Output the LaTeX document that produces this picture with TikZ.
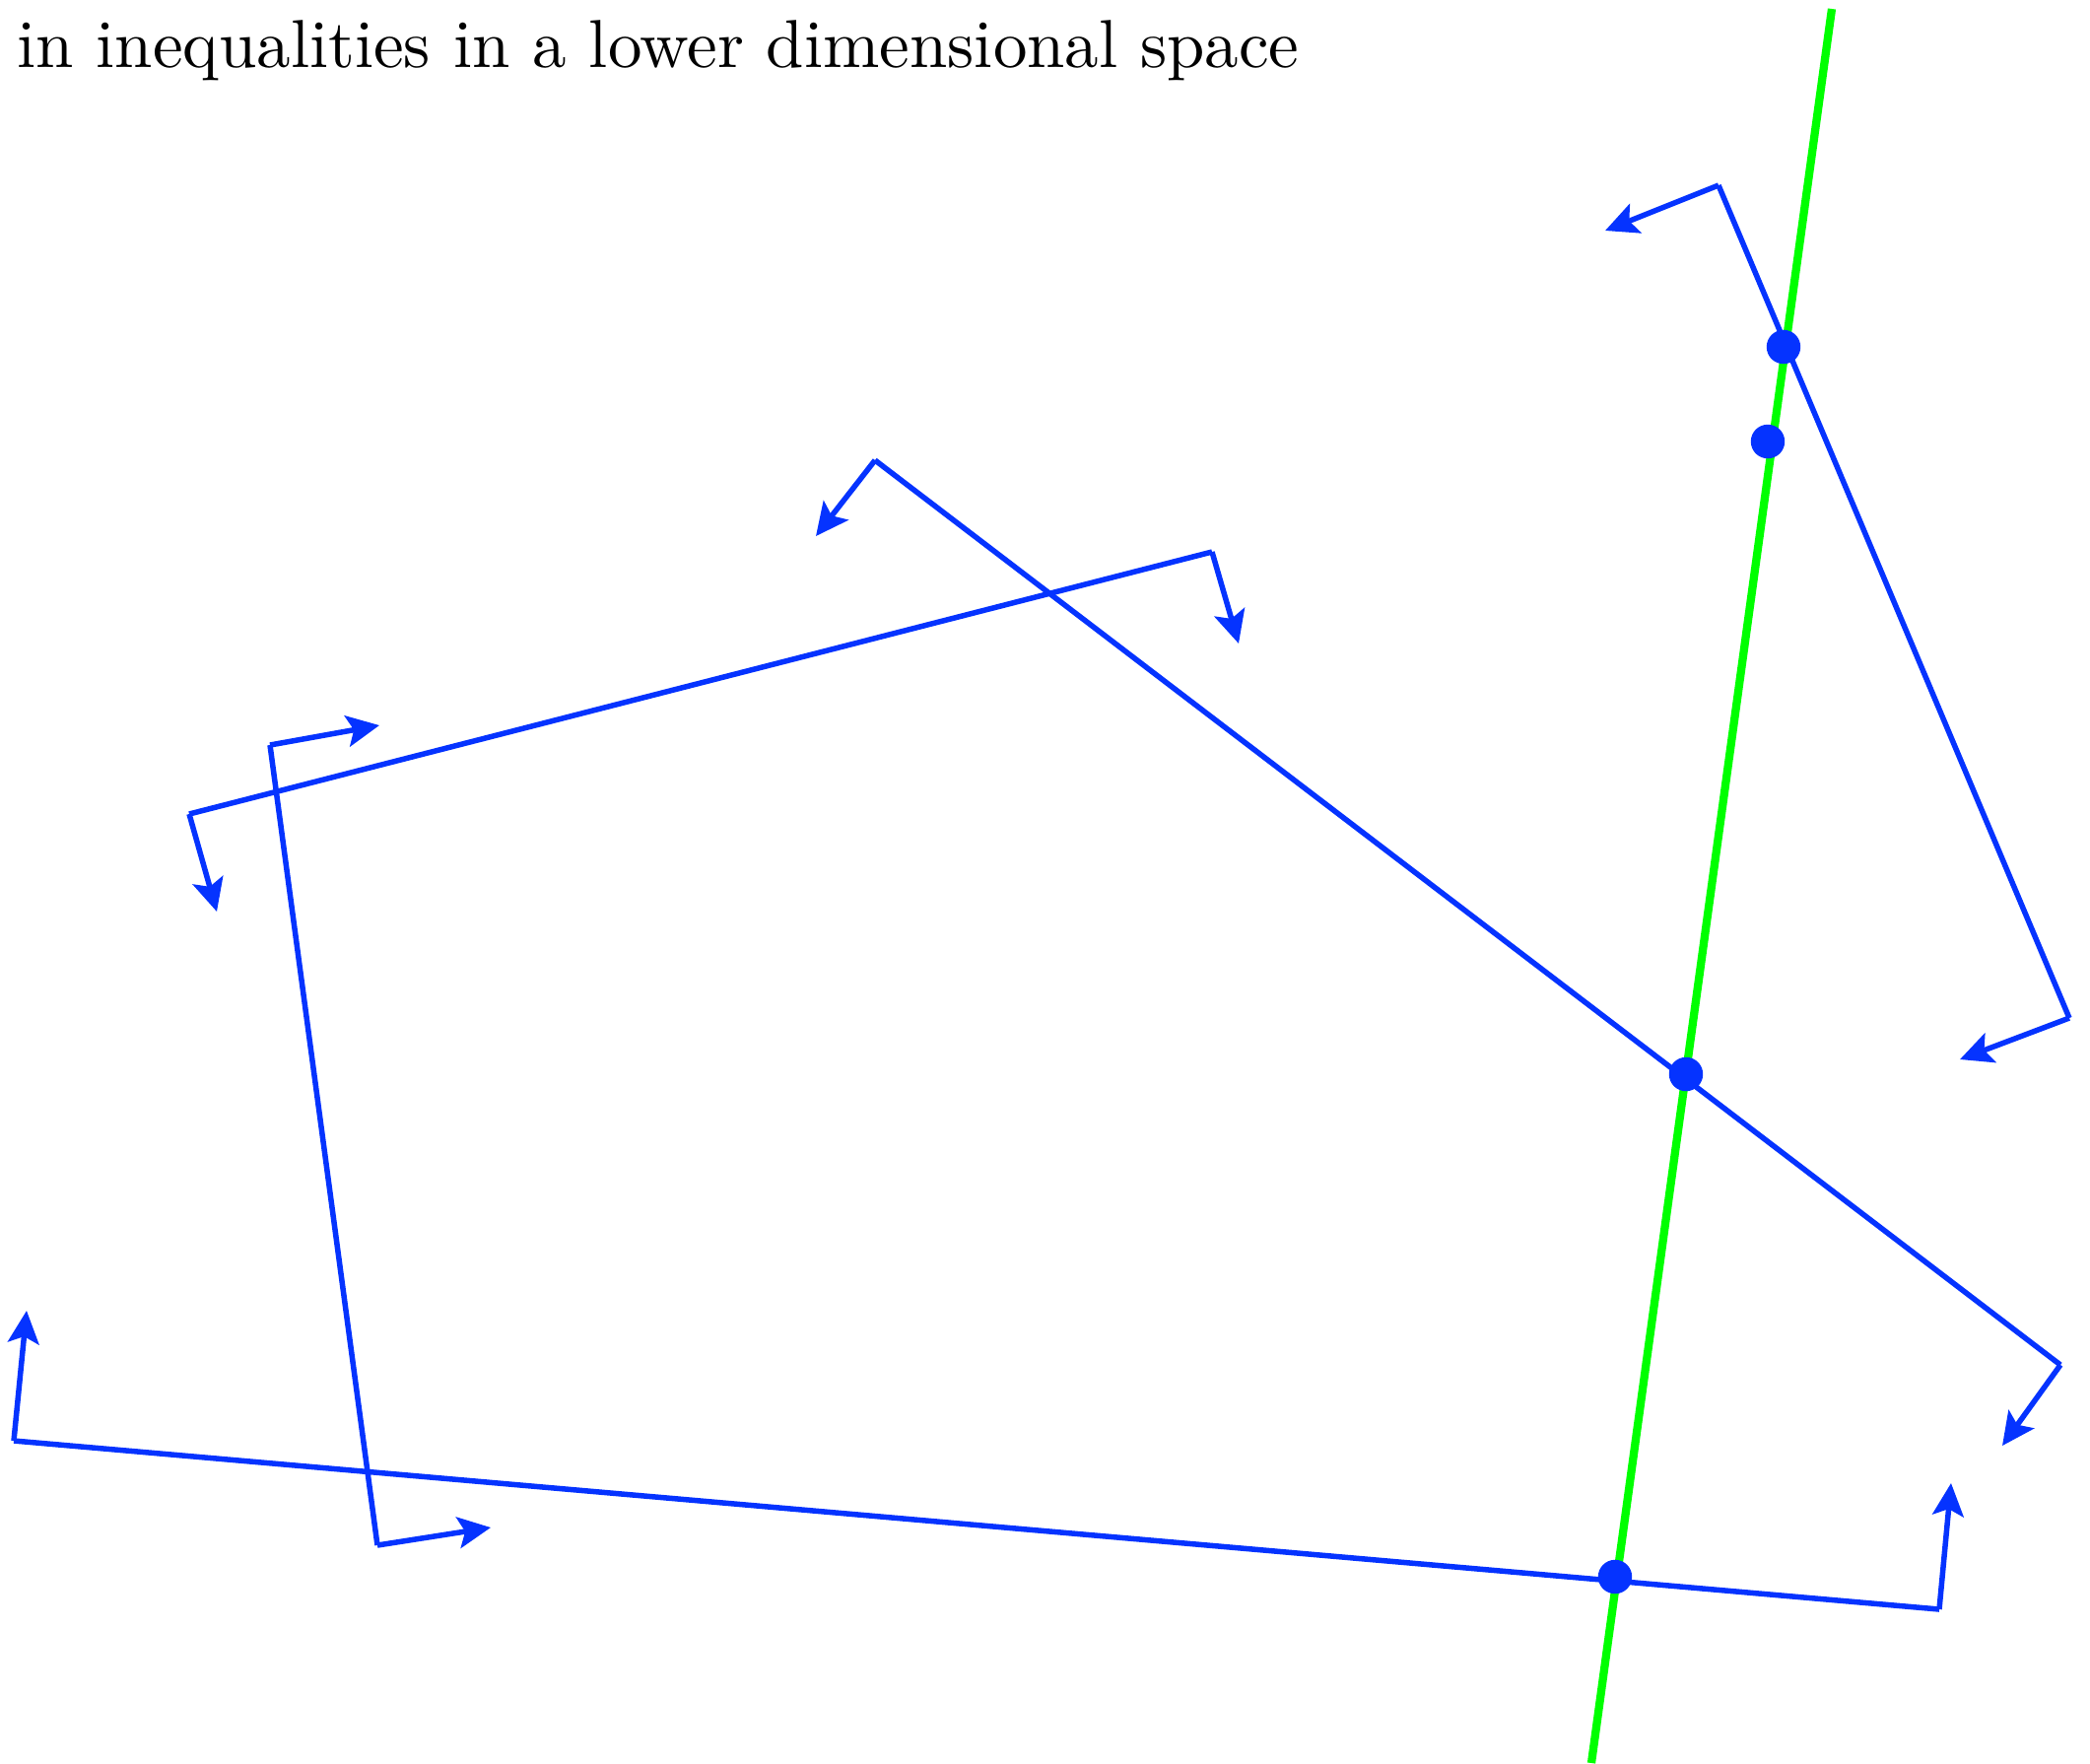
\documentclass[tikz,border=0pt]{standalone}
\usetikzlibrary{arrows.meta}
\definecolor{hblue}{RGB}{5,51,255}
\definecolor{hgreen}{RGB}{0,255,0}
\begin{document}
\begin{tikzpicture}[x=0.1451pt,y=-0.1451pt,
  half/.style={hblue, line width=0.8pt},
  normalarrow/.style={hblue, line width=0.8pt, -{Stealth[length=4.8pt,width=4.6pt,inset=1pt]}},
  hdot/.style={circle, fill=hblue, inner sep=0pt, minimum size=5pt},
  gline/.style={hgreen, line width=1.2pt}]
\useasboundingbox (0,0) rectangle (2121,1789);
\node[anchor=base west, inner sep=0pt] (title) at (16,68) {in inequalities in a lower dimensional space};
% half-space boundaries
\coordinate (a1) at (1744,188);  \coordinate (b1) at (2100,1033);
\coordinate (na1) at (1629,234); \coordinate (nb1) at (1989,1075);
\coordinate (a2) at (888,467);   \coordinate (b2) at (2091,1385);
\coordinate (na2) at (828,544);  \coordinate (nb2) at (2032,1467);
\coordinate (a3) at (192,826);   \coordinate (b3) at (1230,560);
\coordinate (na3) at (220,925);  \coordinate (nb3) at (1257,653);
\coordinate (a4) at (274,756);   \coordinate (b4) at (383,1568);
\coordinate (na4) at (385,736);  \coordinate (nb4) at (498,1550);
\coordinate (a5) at (14,1462);   \coordinate (b5) at (1968,1633);
\coordinate (na5) at (27,1330);  \coordinate (nb5) at (1980,1505);
\foreach \i in {1,...,5}{
  \draw[half] (a\i) -- (b\i);
  \draw[normalarrow] (a\i) -- (na\i);
  \draw[normalarrow] (b\i) -- (nb\i);
}
% green line
\coordinate (g1) at (1859,9);
\coordinate (g2) at (1615,1789);
\draw[gline] (g1) -- (g2);
% points
\node[hdot] (p1) at (1810,352) {};
\node[hdot] (p2) at (1794,448) {};
\node[hdot] (p3) at (1711,1090) {};
\node[hdot] (p4) at (1639,1600) {};
\end{tikzpicture}
\end{document}
